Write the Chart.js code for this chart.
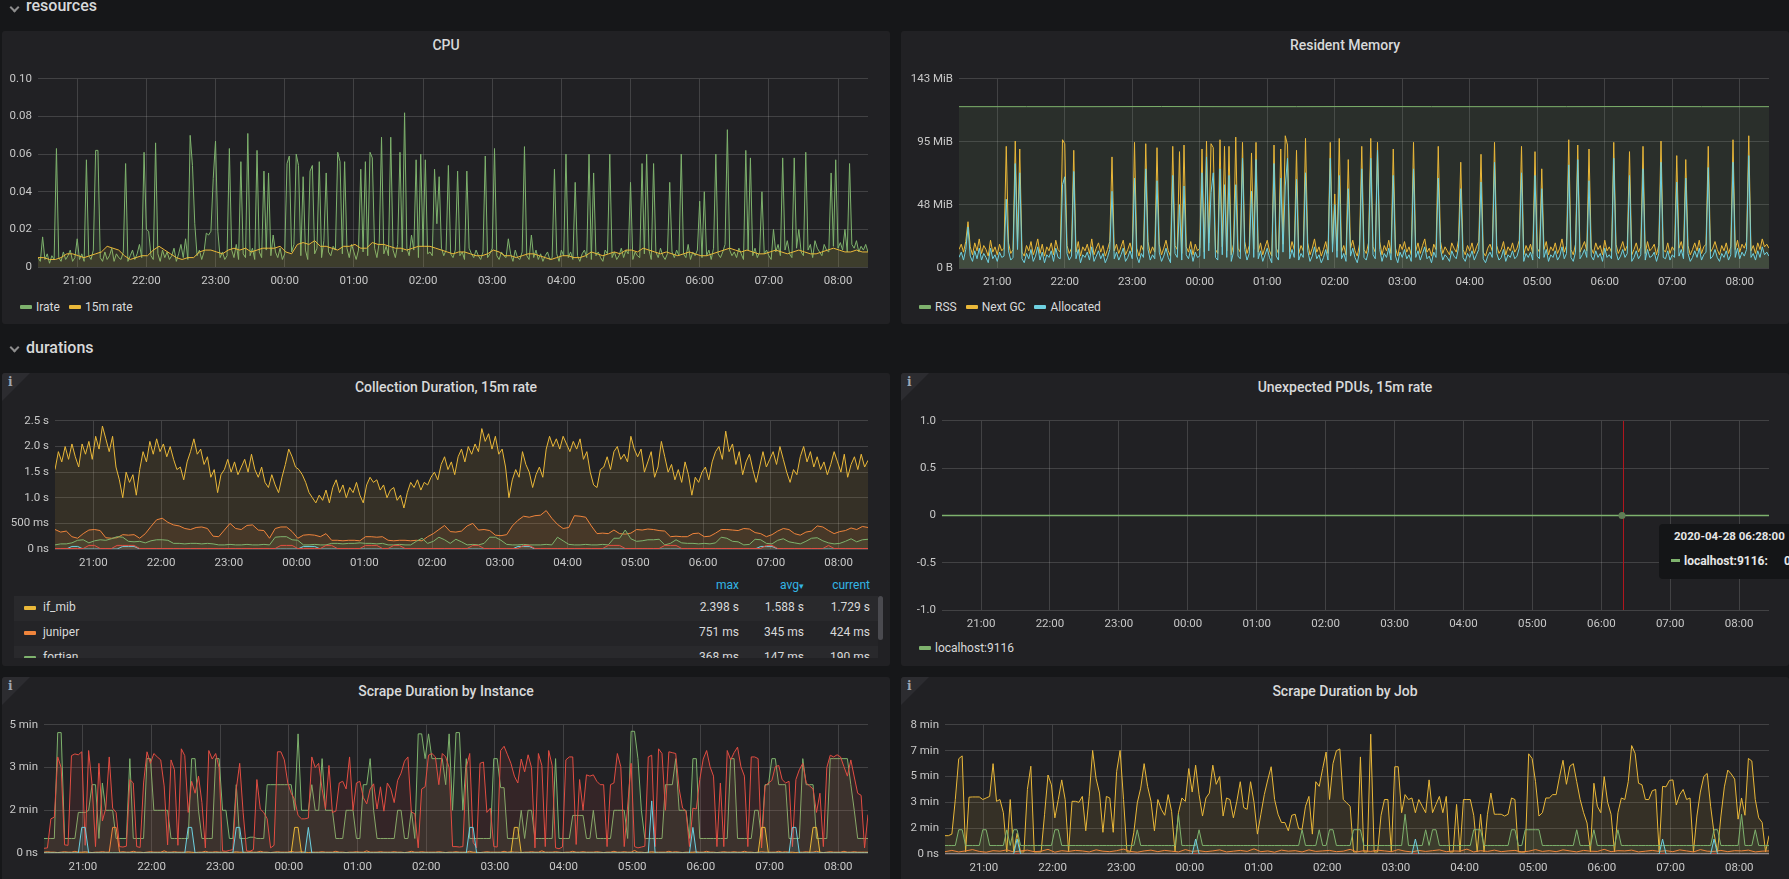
<!DOCTYPE html>
<html><head><meta charset="utf-8">
<script src="https://cdn.jsdelivr.net/npm/chart.js@4.4.0/dist/chart.umd.min.js"></script>
<style>
html,body{margin:0;padding:0;background:#161719;width:1789px;height:879px;overflow:hidden;font-family:Roboto,"Noto Sans",sans-serif;color:#d8d9da;}
.rowt{position:absolute;left:26px;font-size:16px;font-weight:500;line-height:16px;color:#d8d9da;}
.chev{position:absolute;width:5px;height:5px;border-right:2px solid #8e8e8e;border-bottom:2px solid #8e8e8e;transform:rotate(45deg);}
.panel{position:absolute;background:#212124;border-radius:3px;overflow:hidden;}
.title{position:absolute;left:0;right:0;top:5px;line-height:18px;text-align:center;font-size:14px;font-weight:500;color:#d8d9da;}
.info{position:absolute;left:0;top:0;width:0;height:0;border-top:28px solid #2c2c30;border-right:28px solid transparent;}
.infoi{position:absolute;left:6px;top:2px;font:bold 12px "DejaVu Serif",serif;color:#9fa7b3;}
.cw{position:absolute;}
.lg{position:absolute;display:flex;align-items:center;font-size:12px;color:#d8d9da;line-height:14px;white-space:nowrap;}
.lg .it{display:flex;align-items:center;margin-right:9px;}
.sw{display:inline-block;width:12px;height:4px;border-radius:1px;margin-right:4px;}
.lth{position:absolute;left:0;width:888px;height:14px;font-size:12px;line-height:14px;color:#33b5e5;}
.lth span,.lr span.v{position:absolute;}
.lrows{position:absolute;left:12px;top:223px;width:864px;height:62px;overflow:hidden;}
.lr{position:relative;height:25px;line-height:23px;font-size:12px;color:#d8d9da;}
.lr .sw{position:absolute;left:10px;top:10px;}
.lr .n{position:absolute;left:29px;}
.scroll{position:absolute;left:876px;top:223px;width:5px;height:44px;border-radius:3px;background:#4a4a4f;}
.tip{position:absolute;left:1659px;top:524px;width:160px;height:55px;background:#141517;border-radius:4px;font-size:12px;font-weight:bold;color:#e6e6e6;}
</style></head><body>

<div class="chev" style="left:11px;top:4px"></div>
<div class="rowt" style="top:-2px">resources</div>
<div class="chev" style="left:11px;top:344px"></div>
<div class="rowt" style="top:340px">durations</div>

<div class="panel" style="left:2px;top:31px;width:888px;height:293px">
  <div class="title">CPU</div>
  <div class="lg" id="lgCpu" style="left:18px;top:269px"></div>
</div>
<div class="panel" style="left:901px;top:31px;width:888px;height:293px">
  <div class="title">Resident Memory</div>
  <div class="lg" id="lgMem" style="left:18px;top:269px"></div>
</div>
<div class="panel" style="left:2px;top:373px;width:888px;height:293px">
  <div class="info"></div><div class="infoi">i</div>
  <div class="title">Collection Duration, 15m rate</div>
  <div class="lth" style="top:205px">
    <span style="right:151px">max</span><span style="right:86px">avg<span style="position:static;font-size:9px">&#9662;</span></span><span style="right:20px">current</span>
  </div>
  <div class="lrows" id="collRows"></div>
  <div class="scroll"></div>
</div>
<div class="panel" style="left:901px;top:373px;width:888px;height:293px">
  <div class="info"></div><div class="infoi">i</div>
  <div class="title">Unexpected PDUs, 15m rate</div>
  <div class="lg" id="lgPdu" style="left:18px;top:268px"></div>
</div>
<div class="panel" style="left:2px;top:677px;width:888px;height:210px">
  <div class="info"></div><div class="infoi">i</div>
  <div class="title">Scrape Duration by Instance</div>
</div>
<div class="panel" style="left:901px;top:677px;width:888px;height:210px">
  <div class="info"></div><div class="infoi">i</div>
  <div class="title">Scrape Duration by Job</div>
</div>

<script>
// ---------------- time axis ----------------
const T0 = 20 + 26/60;            // 20:26
const T1 = T0 + 12;               // 08:26 next day
const hourTicks = [21,22,23,24,25,26,27,28,29,30,31,32];
const hourLabels = ['21:00','22:00','23:00','00:00','01:00','02:00','03:00','04:00','05:00','06:00','07:00','08:00'];

// ---------------- CPU ----------------
const cpuTicks = [0,0.02,0.04,0.06,0.08,0.10];
const cpuTickLabels = ['0','0.02','0.04','0.06','0.08','0.10'];
// irate, 2-minute samples, in thousandths of a CPU
const cpuIrateMilli = [
5,3,16,4,7,2,6,4,63,5,
3,8,4,6,9,3,5,15,4,7,
3,57,6,4,9,62,62,5,3,8,
4,6,10,3,7,5,4,8,55,3,
6,9,4,7,12,5,61,20,19,6,
4,66,7,3,9,5,8,4,6,10,
3,7,12,5,15,4,70,54,23,6,
9,4,8,18,17,19,47,67,19,5,
8,4,6,63,9,5,12,4,56,7,
5,71,6,10,4,62,8,5,51,9,
50,6,17,8,5,10,4,7,55,59,
8,12,60,54,6,48,9,4,51,54,
7,10,56,5,14,50,8,6,11,9,
61,56,7,56,10,5,12,8,4,9,
52,8,56,6,61,58,10,5,13,69,
7,11,6,69,9,5,12,61,8,82,
10,6,17,9,57,5,60,11,57,7,
8,6,52,23,48,10,6,9,54,7,
5,9,51,6,8,4,51,10,7,5,
9,6,4,8,59,5,7,10,63,6,
4,8,6,5,15,7,3,9,5,4,
8,64,6,4,17,5,9,4,7,3,
6,8,4,5,52,7,3,9,6,60,
5,8,4,45,6,3,7,9,5,60,
4,50,6,8,5,3,9,7,60,5,
8,4,6,10,5,9,7,45,4,8,
6,5,55,7,60,9,4,55,8,5,
10,6,4,7,45,8,5,9,6,60,
7,5,12,4,8,6,9,35,5,40,
6,9,4,10,60,7,5,8,12,73,
9,6,8,5,10,7,4,62,9,58,
6,10,5,8,40,7,9,6,4,20,
8,12,6,58,9,14,7,5,58,10,
20,8,6,61,9,12,5,14,10,8,
6,12,9,8,50,11,57,10,13,9,
20,8,55,12,10,14,8,11,9,12,
8];
// 15m rate, 5-minute samples, thousandths
const cpuRate15Milli = [
5,5,4,4,5,7,7,6,5,6,
7,8,11,10,9,6,4,5,6,6,
9,11,9,7,5,4,5,5,8,9,
9,8,7,9,10,9,10,8,9,10,
10,10,11,8,7,12,13,12,14,11,
11,10,9,11,11,12,10,10,13,12,
12,11,10,10,9,10,11,11,11,10,
9,8,7,8,8,7,6,6,7,9,
8,6,6,5,6,7,7,6,5,4,
5,6,6,5,5,6,8,7,6,7,
8,7,9,9,8,10,9,8,7,8,
7,6,7,8,7,6,6,7,8,9,
10,9,8,9,8,7,7,8,9,8,
7,8,9,8,7,7,8,9,10,9,
8,8,9,8,8];

// ---------------- Resident memory (MiB) ----------------
const memTicks = [0,47.67,95.33,143];
const memTickLabels = ['0 B','48 MiB','95 MiB','143 MiB'];
const memRssMiB = [122,122,122,122.1,122,122,122.1,122,122,122,122.1,122,122]; // hourly
const memNextGcMiB = [ // 2-minute samples
14,18,12,20,35,16,10,19,13,22,
11,17,14,9,21,12,16,10,18,13,
15,92,19,11,14,96,20,90,12,9,
17,13,20,10,15,22,11,18,9,16,
13,19,10,21,14,12,97,94,17,11,
15,89,12,20,9,16,13,18,11,22,
10,15,19,12,17,9,14,20,84,13,
18,11,16,21,10,14,19,12,95,15,
9,17,13,94,20,11,16,12,91,18,
10,15,21,13,9,92,17,14,88,11,
93,16,12,20,10,18,13,15,90,12,
96,19,94,91,14,11,97,16,92,13,
92,10,18,99,15,12,95,20,11,17,
87,14,95,12,19,10,16,21,13,9,
93,15,11,90,18,100,93,12,20,14,
89,11,17,13,98,19,10,15,22,12,
16,9,14,20,11,95,18,56,13,98,
12,17,10,82,15,21,13,9,18,92,
14,11,19,98,16,12,95,20,10,17,
13,21,11,90,15,9,18,14,20,12,
16,10,95,13,19,11,17,22,12,15,
9,18,14,92,20,11,16,13,10,19,
15,12,21,80,14,10,17,13,19,11,
16,20,86,12,9,15,18,13,95,17,
11,14,20,10,16,13,19,12,15,21,
92,10,17,13,18,11,88,15,12,75,
14,20,10,16,13,19,11,15,22,12,
17,97,14,10,18,93,12,16,20,13,
90,15,11,19,14,17,10,21,13,16,
12,95,18,11,15,20,13,17,88,10,
14,19,12,16,92,11,20,13,15,18,
10,17,96,14,12,19,11,16,13,85,
15,20,12,82,17,10,14,19,13,21,
11,16,18,92,12,15,20,14,10,17,
13,19,11,16,97,14,21,12,18,15,
20,100,13,17,11,19,14,22,16,18,
15];
const memAllocMiB = [ // 2-minute samples
8,12,6,14,31,9,5,13,7,15,
6,11,8,4,15,7,10,5,12,8,
9,52,13,6,8,79,14,72,7,4,
11,7,14,5,9,16,6,12,4,10,
8,13,5,15,8,7,63,69,11,6,
9,73,7,14,4,10,8,12,6,16,
5,9,13,7,11,4,8,14,58,7,
12,6,10,15,5,8,13,7,68,9,
4,11,8,75,14,6,10,7,66,12,
5,9,15,8,4,70,11,8,48,6,
62,10,7,14,5,12,8,9,72,7,
84,13,57,72,8,6,75,10,63,8,
70,5,12,63,9,7,83,14,6,11,
58,8,82,7,13,5,10,15,8,4,
79,9,6,68,12,62,83,7,14,8,
67,6,11,8,72,13,5,9,16,7,
10,4,8,14,6,83,12,48,8,70,
7,11,5,60,9,15,8,4,12,75,
8,6,13,83,10,7,89,14,5,11,
8,15,6,70,9,4,12,8,14,7,
10,5,75,8,13,6,11,16,7,9,
4,12,8,68,14,6,10,8,5,13,
9,7,15,60,8,5,11,8,13,6,
10,14,65,7,4,9,12,8,80,11,
6,8,14,5,10,8,13,7,9,15,
72,5,11,8,12,6,70,9,7,60,
8,14,5,10,8,13,6,9,16,7,
11,78,8,5,12,82,7,10,14,8,
66,9,6,13,8,11,5,15,8,10,
7,83,12,6,9,14,8,11,70,5,
8,13,7,10,75,6,14,8,9,12,
5,11,80,8,7,13,6,10,8,65,
9,14,7,68,11,5,8,13,8,15,
6,10,12,76,7,9,14,8,5,11,
8,13,6,10,80,8,15,7,12,9,
14,85,8,11,6,13,8,16,10,12,
9];

// ---------------- Collection duration (seconds) ----------------
const collTicks = [0,0.5,1,1.5,2,2.5];
const collTickLabels = ['0 ns','500 ms','1.0 s','1.5 s','2.0 s','2.5 s'];
const collIfMib = [ // 3-minute samples
1.55,1.9,1.7,2.0,1.75,2.05,1.8,1.6,2.05,1.85,2.1,1.75,
2.2,1.95,2.4,2.15,1.9,2.2,1.6,1.35,1.0,1.5,1.3,1.45,1.05,1.55,1.9,1.7,2.1,1.85,2.15,1.9,
2.05,1.8,2.0,1.75,1.55,1.6,1.35,1.7,1.9,2.15,1.85,1.95,1.65,1.8,1.4,1.55,1.1,1.45,1.55,1.75,
1.5,1.7,1.45,1.6,1.75,1.5,1.85,1.55,1.4,1.6,1.3,1.2,1.45,1.25,1.1,1.4,1.65,1.95,1.8,1.6,
1.55,1.45,1.3,1.1,1.0,0.9,1.05,0.95,1.15,0.9,1.2,1.35,1.1,1.25,1.0,1.2,1.1,1.3,1.05,0.9,
1.25,1.4,1.3,1.35,1.15,1.25,1.0,1.15,1.2,0.95,1.05,0.8,1.1,1.3,1.2,1.35,1.15,1.3,1.25,1.4,
1.5,1.35,1.65,1.8,1.55,1.7,1.45,1.8,1.95,1.7,2.0,1.85,2.05,1.9,2.35,2.1,2.25,1.95,2.2,1.85,
1.95,1.6,1.0,1.35,1.55,1.4,1.9,1.65,1.5,1.2,1.45,1.6,1.4,1.95,2.2,2.0,2.15,1.95,2.2,2.05,
1.9,2.1,1.95,2.15,1.75,1.9,1.5,1.25,1.2,1.55,1.6,1.8,1.55,1.9,2.0,1.75,1.85,1.7,2.2,1.95,
1.8,1.95,1.5,1.7,1.9,1.4,1.6,2.1,1.8,1.5,1.65,1.35,1.55,1.3,1.7,1.45,1.05,1.4,1.3,1.5,
1.6,1.35,1.7,1.9,2.0,1.75,2.3,1.9,2.05,1.65,1.9,1.45,1.7,1.85,1.55,1.3,1.6,1.9,1.6,1.75,
1.9,1.65,2.0,1.75,1.5,1.3,1.55,1.45,1.8,2.0,1.7,1.9,1.6,1.8,1.55,1.7,1.45,1.65,1.9,1.7,1.5,1.85,1.4,1.65,1.8,1.55,1.85,1.6,1.73];
const collJuniper = [ // 5-minute samples
0.38,0.33,0.35,0.24,0.21,0.3,0.37,0.38,0.36,0.22,
0.21,0.22,0.28,0.27,0.28,0.21,0.3,0.44,0.57,0.6,
0.52,0.47,0.45,0.4,0.38,0.42,0.43,0.4,0.25,0.24,
0.37,0.5,0.4,0.38,0.46,0.47,0.37,0.36,0.21,0.4,
0.43,0.43,0.34,0.21,0.27,0.28,0.27,0.24,0.3,0.17,
0.17,0.16,0.17,0.17,0.16,0.24,0.24,0.23,0.24,0.17,
0.16,0.17,0.17,0.16,0.17,0.16,0.24,0.3,0.38,0.46,
0.34,0.33,0.35,0.45,0.5,0.37,0.38,0.36,0.27,0.26,
0.28,0.45,0.56,0.64,0.62,0.65,0.66,0.75,0.6,0.48,
0.4,0.42,0.65,0.64,0.62,0.45,0.3,0.31,0.3,0.37,
0.3,0.29,0.31,0.38,0.37,0.39,0.38,0.36,0.35,0.24,
0.25,0.24,0.24,0.3,0.31,0.24,0.25,0.31,0.38,0.38,
0.37,0.36,0.4,0.39,0.32,0.3,0.24,0.28,0.35,0.4,
0.38,0.3,0.27,0.33,0.35,0.45,0.43,0.36,0.3,0.34,
0.36,0.41,0.38,0.44,0.42];
const collFortian = [ // 5-minute samples
0.08,0.1,0.1,0.12,0.17,0.18,0.12,0.16,0.18,0.17,
0.2,0.24,0.23,0.15,0.14,0.15,0.12,0.16,0.18,0.18,
0.17,0.11,0.11,0.1,0.11,0.11,0.1,0.11,0.1,0.08,
0.08,0.09,0.08,0.08,0.09,0.08,0.08,0.09,0.08,0.23,
0.24,0.24,0.18,0.17,0.08,0.08,0.09,0.08,0.08,0.11,
0.11,0.1,0.11,0.11,0.12,0.11,0.11,0.1,0.11,0.08,
0.08,0.09,0.08,0.08,0.15,0.21,0.11,0.15,0.23,0.18,
0.11,0.19,0.14,0.08,0.09,0.08,0.11,0.23,0.23,0.17,
0.09,0.08,0.08,0.09,0.08,0.08,0.08,0.09,0.08,0.23,
0.16,0.09,0.08,0.08,0.09,0.08,0.08,0.09,0.08,0.21,
0.21,0.37,0.2,0.15,0.16,0.18,0.18,0.19,0.08,0.11,
0.18,0.12,0.11,0.11,0.1,0.11,0.1,0.12,0.23,0.21,
0.15,0.14,0.08,0.09,0.19,0.18,0.11,0.1,0.17,0.2,
0.14,0.12,0.1,0.15,0.21,0.22,0.16,0.12,0.1,0.11,
0.15,0.2,0.14,0.18,0.19];
const collRedJob = [ // 5-minute samples
.01,.01,.01,.01,.01,.01,.07,.07,.01,.01,
.01,.07,.07,.07,.07,.01,.01,.01,.01,.01,
.01,.01,.01,.01,.01,.01,.01,.01,.01,.01,
.01,.01,.01,.01,.01,.01,.01,.01,.01,.01,
.07,.07,.07,.01,.01,.01,.01,.01,.07,.07,
.01,.01,.01,.01,.01,.07,.07,.07,.01,.01,
.07,.07,.01,.01,.01,.01,.01,.01,.01,.01,
.01,.01,.01,.01,.07,.07,.01,.01,.01,.01,
.01,.01,.01,.07,.07,.01,.01,.01,.01,.01,
.01,.01,.01,.01,.01,.01,.01,.01,.07,.07,
.07,.01,.01,.01,.01,.01,.01,.01,.07,.07,
.07,.01,.01,.01,.01,.01,.01,.01,.01,.01,
.01,.01,.01,.01,.01,.01,.07,.07,.01,.01,
.01,.01,.01,.01,.01,.01,.01,.07,.01,.01,
.01,.01,.01,.01,.01];
const collCyanJob = [ // 5-minute samples
0,0,0,.05,.05,0,0,0,0,0,
0,0,.05,.05,.05,0,0,0,0,0,
0,0,0,0,0,0,0,0,0,0,
0,0,0,0,0,0,0,0,0,0,
0,0,0,0,.05,.05,.05,0,0,0,
0,0,0,0,0,0,0,0,0,0,
0,0,0,0,0,0,0,0,0,0,
0,0,0,0,0,0,0,0,0,0,
0,0,.05,.05,.05,0,0,0,0,0,
0,0,0,0,0,0,0,0,0,0,
0,0,0,0,0,0,0,0,0,0,
0,0,0,0,0,0,0,0,0,0,
0,0,0,0,0,.05,.05,.05,0,0,
0,0,0,0,0,0,0,0,0,0,
0,0,0,0,0];
const collLegendNames = ['if_mib','juniper','fortian'];
const collLegendMax = ['2.398 s','751 ms','368 ms'];
const collLegendAvg = ['1.588 s','345 ms','147 ms'];
const collLegendCurrent = ['1.729 s','424 ms','190 ms'];

// ---------------- Unexpected PDUs ----------------
const pduTicks = [-1,-0.5,0,0.5,1];
const pduTickLabels = ['-1.0','-0.5','0','0.5','1.0'];
const pduLocalhost = [0,0,0,0,0,0,0,0,0,0,0,0,0]; // hourly
const pduCursorHour = 30 + 19/60;
const pduTooltipTime = '2020-04-28 06:28:00';
const pduTooltipValue = '0';

// ---------------- Scrape duration by instance (seconds) ----------------
const instTicks = [0,100,200,300];
const instTickLabels = ['0 ns','2 min','3 min','5 min'];
const instRed = [ // 3-minute samples
11,12,80,84,225,200,19,18,228,232,230,237,18,240,160,15,210,75,105,225,
105,95,15,14,16,172,164,15,13,164,237,210,233,225,218,157,19,218,195,18,
244,228,95,168,140,180,118,12,240,220,233,200,5,4,6,8,150,210,95,5,
4,8,172,103,95,80,12,18,237,237,218,164,140,125,88,80,80,82,225,200,
210,150,103,205,95,98,164,168,150,225,100,164,168,130,115,150,162,103,155,98,
164,150,118,170,187,215,225,96,92,12,150,155,229,233,225,160,233,225,200,15,
15,14,15,200,233,25,12,210,213,95,105,15,14,240,250,230,210,180,164,220,
190,230,200,12,233,205,15,240,205,12,10,14,218,225,225,20,172,100,183,180,
183,168,160,160,15,160,164,233,202,15,110,210,15,12,14,16,225,229,15,244,
233,100,237,235,233,150,105,98,15,105,103,172,220,240,202,180,15,164,15,240,
218,235,248,202,180,15,225,225,221,12,157,164,170,202,205,172,164,168,15,172,
195,210,164,157,150,95,140,15,200,229,225,230,225,202,180,218,178,140,135,12,90];
const instGreen = [
34,34,34,34,282,282,34,34,34,34,95,95,95,100,160,160,34,164,100,100,
100,34,34,34,34,221,34,34,34,34,221,221,100,100,100,100,100,34,34,34,
34,34,34,221,221,100,34,34,34,34,221,221,100,100,34,34,160,34,34,34,
37,37,34,34,34,160,160,160,160,160,160,160,160,100,279,100,100,100,160,100,
100,221,100,100,100,34,34,34,100,100,100,34,34,160,160,221,100,34,34,34,
34,34,34,100,100,34,34,100,34,279,279,221,279,221,221,221,221,160,279,100,
282,282,100,221,34,34,34,34,34,34,34,221,221,153,153,34,34,34,34,100,
34,100,100,34,34,34,34,34,34,221,34,34,34,34,88,88,88,88,34,34,
100,34,34,34,34,34,100,100,100,100,34,285,285,221,100,34,34,34,34,34,
34,160,160,160,221,100,100,100,34,221,221,34,34,34,34,34,34,34,34,34,
221,221,34,34,34,34,34,100,100,34,160,160,221,221,160,160,160,34,34,34,
34,221,160,160,160,34,34,34,34,221,221,221,221,221,221,160,100,34,34,34,34];
const instCyan = [
0,0,0,0,0,0,0,0,0,0,0,60,60,0,0,0,0,0,0,0,
0,0,0,0,0,0,0,0,0,0,0,0,0,0,0,0,0,0,0,0,
0,0,60,60,0,0,0,0,0,0,0,0,0,0,0,0,60,60,0,0,
0,0,0,0,0,0,0,0,0,0,0,0,0,0,0,0,0,60,0,0,
0,0,0,0,0,0,0,0,0,0,0,0,0,0,0,0,0,0,0,0,
0,0,0,0,0,0,0,0,0,0,0,0,0,0,0,0,0,0,0,0,
0,0,0,0,60,60,0,0,0,0,0,0,0,0,0,0,0,0,0,0,
0,0,0,0,0,0,0,0,0,0,0,0,0,0,0,0,0,0,0,0,
0,0,0,0,0,0,0,0,0,0,0,0,0,0,0,0,0,122,0,0,
0,0,0,0,0,0,0,0,0,60,0,0,0,0,0,0,0,0,0,0,
0,0,0,0,0,0,0,0,0,0,0,0,0,0,0,0,0,0,60,60,
0,0,0,0,0,0,0,0,0,0,0,0,0,0,0,0,0,0,0,0,0];
const instYellow = [
0,0,0,0,0,0,0,0,0,0,0,0,0,0,0,0,0,0,0,0,
0,0,0,0,0,0,0,0,0,0,0,0,0,0,0,0,0,0,0,0,
0,0,0,0,0,0,0,0,0,0,0,0,0,0,0,0,0,0,0,0,
0,0,0,0,0,0,0,0,0,0,0,0,0,60,60,0,0,0,0,0,
0,0,0,0,0,0,0,0,0,0,0,0,0,0,0,0,0,0,0,0,
0,0,0,0,0,0,0,0,0,0,0,0,0,0,0,0,0,0,0,0,
0,0,0,0,0,0,0,0,0,0,0,0,0,0,0,0,0,60,60,0,
0,0,0,0,0,0,0,0,0,0,0,0,0,0,0,0,0,0,0,0,
0,0,0,0,0,0,0,0,0,0,0,0,0,0,0,0,0,0,0,0,
0,0,0,0,0,0,0,0,0,0,0,0,0,0,0,0,0,0,0,0,
0,0,0,0,0,0,0,0,0,60,60,0,0,0,0,0,0,0,0,0,
0,0,0,0,60,60,0,0,0,0,0,0,0,0,0,0,0,0,0,0,0];
const instOrange = [
2,3,2,2,1,2,3,2,2,4,2,2,3,2,1,2,2,3,2,2,
60,60,2,3,2,2,4,2,2,1,2,3,2,2,2,5,2,2,3,2,
2,2,3,2,1,2,2,4,2,2,3,2,2,2,1,2,3,2,2,2,
3,2,2,4,2,2,1,2,3,2,2,2,4,2,2,3,2,1,2,2,
2,3,2,2,2,4,2,2,1,2,2,3,2,2,5,2,2,2,3,2,
2,2,3,2,2,1,2,4,2,2,3,2,2,2,2,3,2,1,2,2,
3,2,2,2,4,2,2,1,2,3,2,2,2,2,4,2,3,2,2,1,
2,2,3,2,2,5,2,2,2,3,2,1,2,2,4,2,2,3,2,2,
2,3,2,1,2,2,4,2,2,3,2,2,6,2,2,1,2,3,2,2,
2,2,4,2,3,2,1,2,2,2,3,2,2,4,2,2,1,2,3,2,
2,3,2,2,4,2,2,1,2,3,2,2,2,2,4,2,3,2,2,1,
2,2,3,2,2,4,2,1,2,3,2,2,2,4,2,2,3,2,2,2,2];

// ---------------- Scrape duration by job (seconds) ----------------
const jobTicks = [0,100,200,300,400,500];
const jobTickLabels = ['0 ns','2 min','3 min','5 min','7 min','8 min'];
const jobYellow = [ // 3-minute samples
71,71,77,211,369,380,8,220,221,221,221,211,217,223,350,204,211,160,8,211,
8,80,8,8,250,340,8,8,8,154,306,268,140,211,287,211,8,204,204,200,
223,90,223,401,293,236,84,223,217,84,320,401,211,8,8,84,198,255,350,262,
204,90,211,173,150,230,165,8,160,217,204,331,240,344,230,147,217,236,344,270,
300,147,217,211,140,204,280,180,173,280,200,77,154,230,287,338,211,154,122,122,
90,150,154,98,96,185,223,77,280,262,331,395,211,350,400,407,211,198,185,8,
8,376,8,8,464,8,8,150,211,211,8,338,338,160,230,211,217,160,211,185,
160,287,160,192,223,160,223,8,8,192,8,211,211,211,150,8,154,8,154,236,
154,154,154,147,154,217,211,8,8,8,388,370,280,147,160,217,217,230,230,300,
363,270,340,350,280,211,160,120,8,274,185,160,300,200,154,8,160,217,211,280,
420,390,274,268,211,211,245,250,8,262,260,285,287,190,230,250,211,217,8,147,
240,300,312,185,80,8,147,260,325,310,290,135,217,150,370,360,211,140,122,8,71];
const jobGreen = [
33,33,33,33,94,94,33,33,33,33,33,94,94,33,33,33,33,33,94,33,
94,94,33,33,33,33,33,33,33,33,33,33,94,94,33,33,33,33,33,33,
33,33,33,33,33,33,33,33,33,33,33,33,33,33,33,33,94,33,33,33,
33,33,33,33,33,33,33,33,154,33,33,33,33,33,94,33,33,33,33,33,
33,33,33,33,33,33,33,33,33,33,33,33,33,33,33,33,33,33,33,33,
33,33,33,33,94,33,33,33,33,94,33,33,94,94,33,33,33,33,33,94,
94,94,33,33,33,33,33,33,33,33,33,33,33,33,154,33,33,33,33,33,
94,33,94,94,33,33,33,33,33,33,33,33,33,33,94,94,94,33,33,33,
33,33,33,33,33,94,94,33,33,94,94,94,94,94,33,33,33,33,33,33,
33,33,33,33,94,33,33,33,33,94,33,33,33,33,33,33,94,33,33,33,
33,33,33,33,33,33,33,33,33,33,33,33,33,33,33,33,33,33,33,33,
33,33,33,33,94,94,33,33,33,33,33,33,154,33,33,33,94,33,33,33,33];
const jobCyan = [
0,0,0,0,0,0,0,0,0,0,0,0,0,0,0,0,0,0,0,0,
0,58,0,0,0,0,0,0,0,0,0,0,0,0,0,0,0,0,0,0,
0,0,0,0,0,0,0,0,0,0,0,0,0,0,0,0,0,0,0,0,
0,0,0,0,0,0,0,0,0,0,0,0,0,58,0,0,0,0,0,0,
0,0,0,0,0,0,0,0,0,0,0,0,0,0,0,0,0,0,0,0,
0,0,0,0,0,0,0,0,0,0,0,0,0,0,0,0,0,0,0,0,
0,0,0,0,0,0,0,0,0,0,0,0,0,0,0,0,0,58,0,0,
0,0,0,0,0,0,0,0,0,0,0,0,0,0,0,0,0,0,0,0,
0,0,0,0,0,0,0,0,0,0,0,0,0,0,0,0,0,0,0,0,
0,0,0,0,0,0,0,0,0,0,0,0,0,0,0,0,0,0,0,0,
0,0,0,0,0,0,0,0,0,58,0,0,0,0,0,0,0,0,0,0,
0,0,0,0,58,0,0,0,0,0,0,0,0,0,0,0,0,0,0,0,0];
const jobOrange = [ // 6-minute samples
9,14,8,12,17,10,7,13,11,16,8,12,15,9,11,18,7,13,10,14,
12,8,16,11,9,13,19,10,7,12,15,9,14,11,8,17,10,13,9,12,
16,8,11,14,10,20,9,12,7,15,11,13,8,16,10,12,14,9,11,18,
8,13,10,15,12,9,17,11,8,14,10,13,16,9,12,11,19,8,13,10,
15,9,12,14,8,11,17,10,13,9,16,12,8,14,11,10,18,9,13,12,
15,8,11,14,10,13,9,16,12,8,17,11,10,14,9,13,12,15,8,11,
12];
const jobRed = [1,1,1,1,1,1,1,1,1,1,1,1,1]; // hourly

// ---------------- helpers ----------------
const C = {green:'#7EB26D', yellow:'#EAB839', cyan:'#6ED0E0', orange:'#EF843C', red:'#E24D42'};
const GRID = 'rgba(200,200,200,0.2)';
const TICK = '#c8c8c8';
const FONT = {family:'Roboto', size:11.5};
function rgba(hex,a){const n=parseInt(hex.slice(1),16);return 'rgba('+(n>>16)+','+((n>>8)&255)+','+(n&255)+','+a+')';}
function pts(vals, stepMin, k){ k = k||1; return vals.map((v,i)=>({x:T0 + i*stepMin/60, y:v*k})); }
function ds(label, color, data, fillA, width){
  fillA = (fillA===undefined)?0.1:fillA;
  return {label, data, borderColor:color, backgroundColor:rgba(color,fillA), borderWidth:width||1,
          pointRadius:0, pointHoverRadius:0, fill: fillA>0?'origin':false, tension:0};
}
function mk(box, datasets, yMin, yMax, yTicks, yLabels, plugins){
  const W = 60;
  const div = document.createElement('div');
  div.className = 'cw';
  div.style.left = (box.l - W)+'px'; div.style.top = (box.t - 10)+'px';
  div.style.width = (box.r - box.l + W + 10)+'px'; div.style.height = (box.b - box.t + 36)+'px';
  const cv = document.createElement('canvas'); div.appendChild(cv); document.body.appendChild(div);
  return new Chart(cv, {type:'line', data:{datasets}, plugins: plugins||[], options:{
    animation:false, responsive:true, maintainAspectRatio:false, events:[],
    layout:{padding:{top:10,right:10,left:0,bottom:0}},
    plugins:{legend:{display:false}, tooltip:{enabled:false}},
    scales:{
      x:{type:'linear', min:T0, max:T1,
         afterBuildTicks:s=>{s.ticks = hourTicks.map(v=>({value:v}));},
         afterFit:s=>{s.height = 26;},
         ticks:{callback:(v,i)=>hourLabels[i], color:TICK, font:FONT, padding:7, maxRotation:0, autoSkip:false},
         grid:{color:GRID, drawTicks:false, lineWidth:1}, border:{display:false}},
      y:{type:'linear', min:yMin, max:yMax,
         afterBuildTicks:s=>{s.ticks = yTicks.map(v=>({value:v}));},
         afterFit:s=>{s.width = W;},
         ticks:{callback:(v,i)=>yLabels[i], color:TICK, font:FONT, padding:6},
         grid:{color:GRID, drawTicks:false, lineWidth:1}, border:{display:false}}
    }}});
}
function legend(id, items){
  const el = document.getElementById(id);
  items.forEach(([name,color])=>{
    const it = document.createElement('div'); it.className='it';
    it.innerHTML = '<span class="sw" style="background:'+color+'"></span><span>'+name+'</span>';
    el.appendChild(it);
  });
}

// ---------------- charts ----------------
mk({l:38,t:76,r:868,b:267}, [
  ds('15m rate', C.yellow, pts(cpuRate15Milli,5,0.001)),
  ds('Irate', C.green, pts(cpuIrateMilli,2,0.001))
], 0, 0.10, cpuTicks, cpuTickLabels);
legend('lgCpu', [['Irate',C.green],['15m rate',C.yellow]]);

mk({l:959,t:76,r:1769,b:268}, [
  ds('Allocated', C.cyan, pts(memAllocMiB,2)),
  ds('Next GC', C.yellow, pts(memNextGcMiB,2)),
  ds('RSS', C.green, pts(memRssMiB,60))
], 0, 143, memTicks, memTickLabels);
legend('lgMem', [['RSS',C.green],['Next GC',C.yellow],['Allocated',C.cyan]]);

mk({l:55,t:418,r:868,b:549}, [
  ds('red', C.red, pts(collRedJob,5)),
  ds('cyan', C.cyan, pts(collCyanJob,5)),
  ds('fortian', C.green, pts(collFortian,5)),
  ds('juniper', C.orange, pts(collJuniper,5)),
  ds('if_mib', C.yellow, pts(collIfMib,3))
], 0, 2.5, collTicks, collTickLabels);
(function(){
  const box = document.getElementById('collRows');
  const cols = [C.yellow, C.orange, C.green];
  collLegendNames.forEach((n,i)=>{
    const r = document.createElement('div'); r.className='lr';
    r.style.background = (i%2===0)?'#29292c':'#242427';
    r.innerHTML = '<span class="sw" style="background:'+cols[i]+'"></span><span class="n">'+n+'</span>'+
      '<span class="v" style="right:139px">'+collLegendMax[i]+'</span>'+
      '<span class="v" style="right:74px">'+collLegendAvg[i]+'</span>'+
      '<span class="v" style="right:8px">'+collLegendCurrent[i]+'</span>';
    box.appendChild(r);
  });
})();

const cursorPlugin = {id:'cursor', afterDatasetsDraw(chart){
  const x = Math.round(chart.scales.x.getPixelForValue(pduCursorHour)) + 0.5;
  const y0 = chart.scales.y.getPixelForValue(0);
  const a = chart.chartArea, ctx = chart.ctx;
  ctx.save();
  ctx.strokeStyle = '#b0161e'; ctx.lineWidth = 1;
  ctx.beginPath(); ctx.moveTo(x, a.top); ctx.lineTo(x, a.bottom); ctx.stroke();
  ctx.fillStyle = '#5f7d55';
  ctx.beginPath(); ctx.arc(x-1.5, y0, 3.5, 0, Math.PI*2); ctx.fill();
  ctx.restore();
}};
mk({l:942,t:418,r:1769,b:610}, [
  ds('localhost:9116', C.green, pts(pduLocalhost,60), 0, 1.5)
], -1, 1, pduTicks, pduTickLabels, [cursorPlugin]);
legend('lgPdu', [['localhost:9116',C.green]]);

mk({l:44,t:722,r:868,b:853}, [
  ds('cyan', C.cyan, pts(instCyan,3)),
  ds('yellow', C.yellow, pts(instYellow,3)),
  ds('orange', C.orange, pts(instOrange,3)),
  ds('red', C.red, pts(instRed,3)),
  ds('green', C.green, pts(instGreen,3))
], 0, 300, instTicks, instTickLabels);

mk({l:945,t:722,r:1769,b:854}, [
  ds('cyan', C.cyan, pts(jobCyan,3)),
  ds('red', C.red, pts(jobRed,60)),
  ds('orange', C.orange, pts(jobOrange,6)),
  ds('green', C.green, pts(jobGreen,3)),
  ds('yellow', C.yellow, pts(jobYellow,3))
], 0, 500, jobTicks, jobTickLabels);

// tooltip
const tip = document.createElement('div'); tip.className='tip';
tip.innerHTML = '<div style="position:absolute;left:15px;top:4px;line-height:16px;font-size:11.5px">'+pduTooltipTime+'</div>'+
  '<span style="position:absolute;left:12px;top:35px;width:9px;height:3px;background:'+C.green+'"></span>'+
  '<div style="position:absolute;left:25px;top:29px;line-height:16px">localhost:9116:</div>'+
  '<div style="position:absolute;left:125px;top:29px;line-height:16px">'+pduTooltipValue+'</div>';
document.body.appendChild(tip);
</script>
</body></html>
